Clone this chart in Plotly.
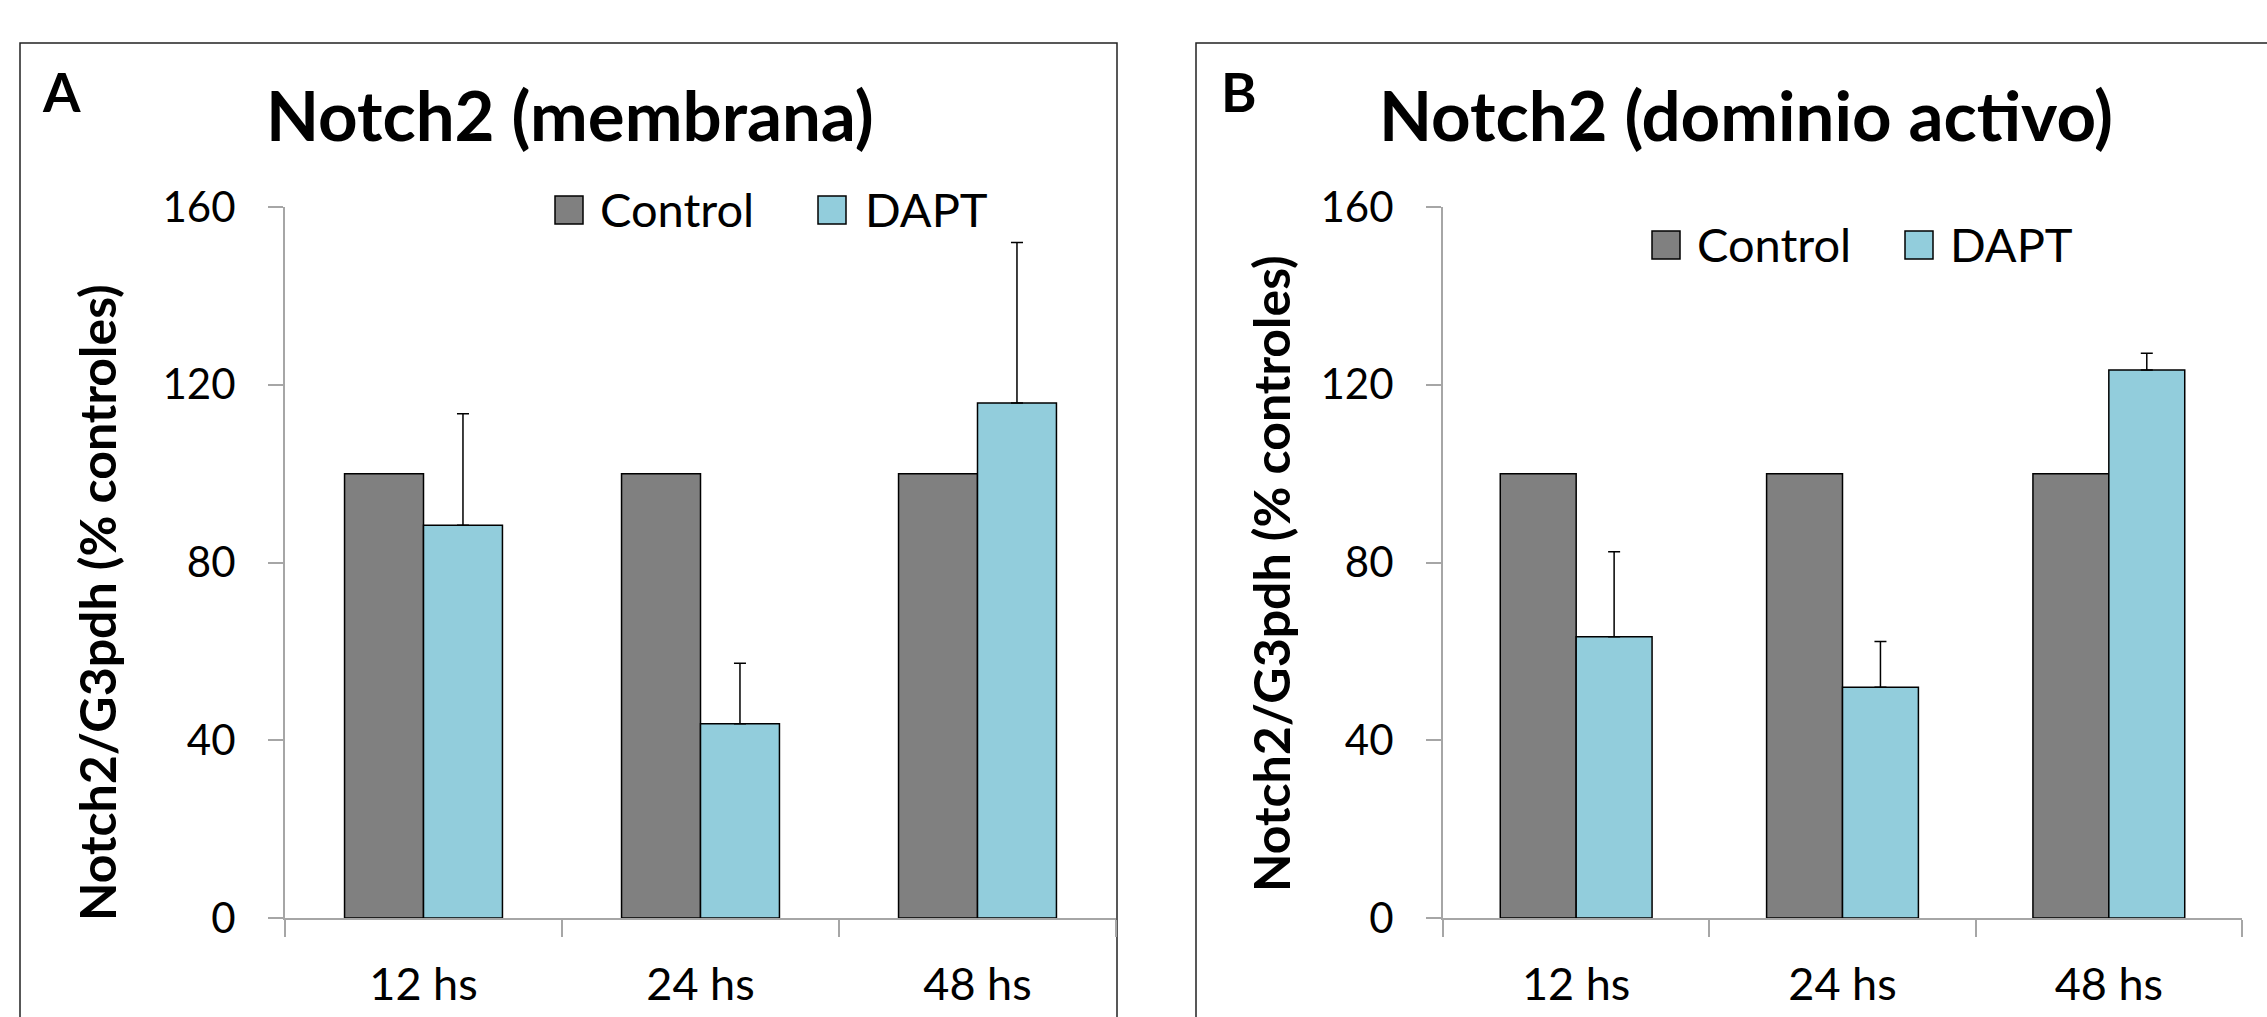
import plotly.graph_objects as go

# ---------------- data ----------------
categories = ["12 hs", "24 hs", "48 hs"]

control_a = [100, 100, 100]
dapt_a = [88.4, 43.7, 115.9]
dapt_a_err = [25.1, 13.6, 36.1]

control_b = [100, 100, 100]
dapt_b = [63.3, 51.9, 123.3]
dapt_b_err = [19.1, 10.3, 3.8]

y_ticks = [0, 40, 80, 120, 160]
series_names = ["Control", "DAPT"]
title_a = "Notch2 (membrana)"
title_b = "Notch2 (dominio activo)"
y_title = "Notch2/G3pdh (% controles)"
panel_labels = ["A", "B"]

# ---------------- styling ----------------
W, H = 2267, 1017
FONT = "Lato"
C_CONTROL = "#808080"
C_DAPT = "#92CDDC"
AXIS_C = "#A6A6A6"


def px(x):
    return x / W


def py(y):
    return 1 - y / H


fig = go.Figure()


def add_panel(ctrl, dapt, err, xa, ya):
    fig.add_trace(go.Bar(
        x=categories, y=ctrl, name=series_names[0], xaxis=xa, yaxis=ya,
        marker=dict(color=C_CONTROL, line=dict(color="black", width=1.5)),
        showlegend=False,
    ))
    fig.add_trace(go.Bar(
        x=categories, y=dapt, name=series_names[1], xaxis=xa, yaxis=ya,
        marker=dict(color=C_DAPT, line=dict(color="black", width=1.5)),
        error_y=dict(type="data", symmetric=False, array=err,
                     arrayminus=[0] * len(err), color="black",
                     thickness=1.5, width=6),
        showlegend=False,
    ))


add_panel(control_a, dapt_a, dapt_a_err, "x", "y")
add_panel(control_b, dapt_b, dapt_b_err, "x2", "y2")

ydom = [py(918), py(207)]

xaxis_common = dict(
    showline=True, linecolor=AXIS_C, linewidth=2, automargin=False,
    ticks="outside", tickson="boundaries", ticklen=17, tickwidth=2,
    tickcolor=AXIS_C, showgrid=False, zeroline=False,
    tickfont=dict(family=FONT, size=45, color="black"),
    ticklabelstandoff=26,
)
yaxis_common = dict(
    range=[0, 160], tickvals=y_ticks, showline=True, linecolor=AXIS_C,
    linewidth=2, ticks="outside", ticklen=15, tickwidth=2, tickcolor=AXIS_C,
    showgrid=False, zeroline=False, automargin=False,
    tickfont=dict(family=FONT, size=42, color="black"),
    ticklabelstandoff=24,
)

fig.update_layout(
    width=W, height=H, autosize=False,
    margin=dict(l=0, r=0, t=0, b=0, autoexpand=False),
    paper_bgcolor="white", plot_bgcolor="white",
    barmode="group", bargap=0.43, bargroupgap=0,
    xaxis=dict(domain=[px(285), px(1116)], anchor="y", **xaxis_common),
    yaxis=dict(domain=ydom, anchor="x", **yaxis_common),
    xaxis2=dict(domain=[px(1443), px(2242)], anchor="y2", **xaxis_common),
    yaxis2=dict(domain=ydom, anchor="x2", **yaxis_common),
    showlegend=False,
)

shapes = []
annotations = []

# panel frames
shapes.append(dict(type="rect", xref="paper", yref="paper",
                   x0=px(20), x1=px(1117), y0=py(1030), y1=py(43),
                   line=dict(color="#222222", width=1.5), fillcolor="rgba(0,0,0,0)",
                   layer="below"))
shapes.append(dict(type="rect", xref="paper", yref="paper",
                   x0=px(1196), x1=px(2290), y0=py(1030), y1=py(43),
                   line=dict(color="#222222", width=1.5), fillcolor="rgba(0,0,0,0)",
                   layer="below"))

# panel letters
for lbl, x in zip(panel_labels, [40, 1219]):
    annotations.append(dict(text=lbl, x=px(x), y=py(91), xref="paper", yref="paper",
                            xanchor="left", yanchor="middle", showarrow=False,
                            font=dict(family=FONT, size=54, color="black", weight="bold")))

# titles
for t, cx in [(title_a, 570), (title_b, 1746)]:
    annotations.append(dict(text=t, x=px(cx), y=py(114), xref="paper", yref="paper",
                            xanchor="center", yanchor="middle", showarrow=False,
                            font=dict(family=FONT, size=69, color="black", weight="bold")))

# y titles
for cx, cy in [(97, 603), (1271, 574)]:
    annotations.append(dict(text=y_title, x=px(cx), y=py(cy), xref="paper", yref="paper",
                            xanchor="center", yanchor="middle", textangle=-90,
                            showarrow=False,
                            font=dict(family=FONT, size=50, color="black", weight="bold")))

# legends (manual, Excel-style square swatches)
legend_specs = [
    # (box_x0, box_y0, text_x, text_cy)
    [(555, 196, 598, 209), (818, 196, 863, 209)],
    [(1652, 231, 1695, 244), (1905, 231, 1948, 244)],
]
for panel in legend_specs:
    for (bx, by, tx, ty), name, col in zip(panel, series_names, [C_CONTROL, C_DAPT]):
        shapes.append(dict(type="rect", xref="paper", yref="paper",
                           x0=px(bx), x1=px(bx + 28), y0=py(by + 28), y1=py(by),
                           line=dict(color="black", width=1.5), fillcolor=col))
        annotations.append(dict(text=name, x=px(tx), y=py(ty), xref="paper", yref="paper",
                                xanchor="left", yanchor="middle", showarrow=False,
                                font=dict(family=FONT, size=47, color="black")))

fig.update_layout(shapes=shapes, annotations=annotations)

fig.write_html("out.html", config={"displayModeBar": False},
               post_script="document.body.style.margin='0';document.body.style.padding='0';")
